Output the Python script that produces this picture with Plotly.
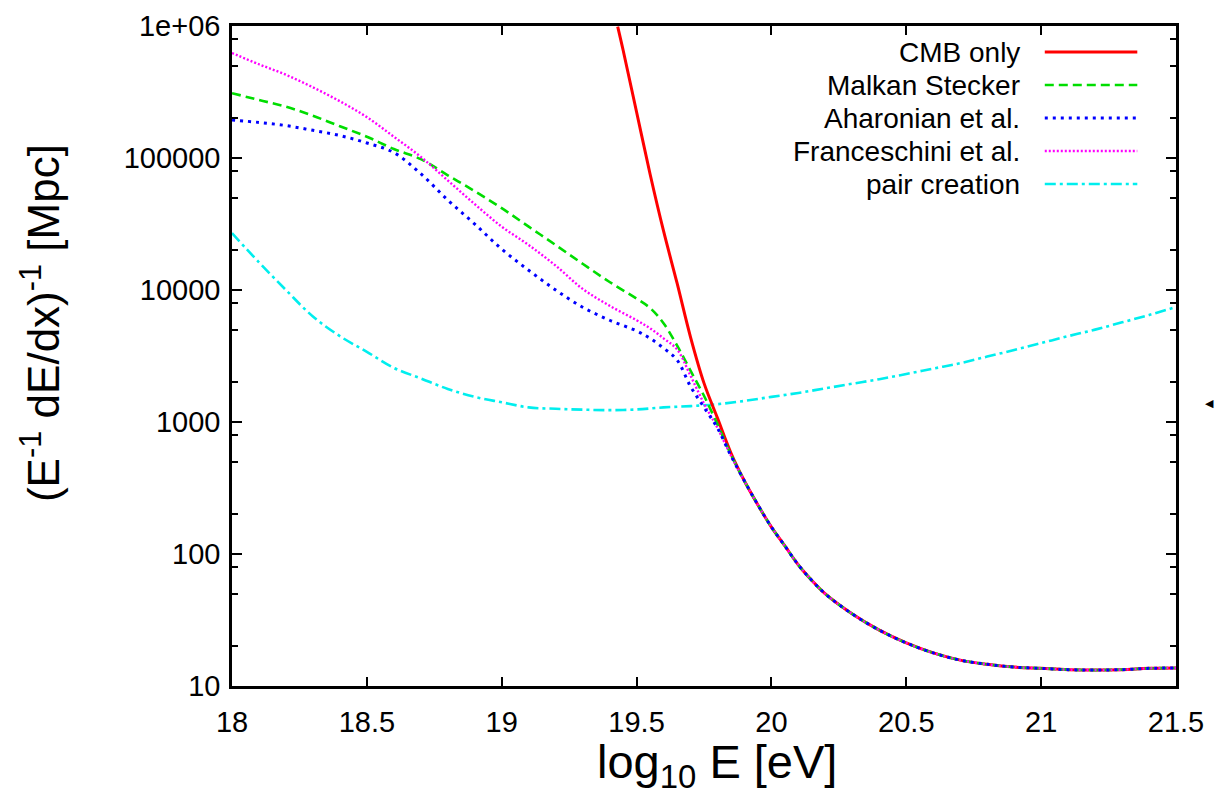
import plotly.graph_objects as go

# ---------------- data ----------------
# low-energy grid for the EBL models (log10 E [eV])
e_low = [18.0, 18.1, 18.2, 18.3, 18.4, 18.5, 18.6, 18.7, 18.8, 18.9,
         19.0, 19.1, 19.2, 19.3, 19.4, 19.5, 19.55, 19.6, 19.65, 19.7,
         19.75, 19.8, 19.85, 19.9]

malkan_low = [310000, 275000, 245000, 209000, 174000, 145000, 117000, 98000,
              74000, 56000, 41700, 30200, 21900, 15800, 11500, 8600, 7300,
              5600, 3800, 2450, 1580, 960, 565, 357]

aharonian_low = [194000, 186000, 176000, 162000, 148000, 130000, 110000, 76000,
                 48000, 31600, 20400, 14100, 10000, 7400, 5900, 4900, 4300,
                 3630, 2950, 1860, 1290, 900, 555, 357]

franceschini_low = [624000, 513000, 427000, 343000, 269000, 204000, 145000, 102000,
                    67600, 44700, 30200, 21900, 15300, 10200, 7600, 5900, 5130,
                    4300, 3550, 2240, 1380, 900, 555, 357]

# CMB only (starts where it enters the frame)
e_cmb = [19.43, 19.45, 19.5, 19.55, 19.6, 19.65, 19.7, 19.75, 19.8, 19.85, 19.9]
cmb_low = [990000, 658000, 223000, 75700, 28000, 11300, 4400, 1970, 1070, 582, 357]

# high-energy part shared by all photo-pion curves
e_high = [19.95, 20.0, 20.05, 20.1, 20.15, 20.2, 20.3, 20.4, 20.5, 20.6, 20.7,
          20.8, 20.9, 21.0, 21.1, 21.2, 21.3, 21.4, 21.5]
common_high = [235, 160, 115, 82.6, 63, 49.8, 35.1, 26.5, 21.2, 17.8, 15.7,
               14.6, 13.9, 13.6, 13.3, 13.2, 13.3, 13.6, 13.7]

# pair creation
e_pair = [18.0, 18.1, 18.2, 18.3, 18.4, 18.5, 18.6, 18.7, 18.8, 18.9,
          19.0, 19.1, 19.2, 19.3, 19.4, 19.5, 19.6, 19.7, 19.8, 19.9,
          20.0, 20.1, 20.2, 20.3, 20.4, 20.5, 20.6, 20.7, 20.8, 20.9,
          21.0, 21.1, 21.2, 21.3, 21.4, 21.5]
pair = [27000, 16200, 10000, 6300, 4470, 3400, 2570, 2140, 1780, 1550,
        1410, 1290, 1260, 1240, 1230, 1245, 1290, 1320, 1365, 1445,
        1550, 1660, 1800, 1950, 2110, 2310, 2540, 2790, 3130, 3510,
        3960, 4470, 5010, 5690, 6460, 7430]

labels = ["CMB only", "Malkan Stecker", "Aharonian et al.",
          "Franceschini et al.", "pair creation"]
colors = ["#ff0000", "#00dd00", "#0000ff", "#ff00ff", "#00eeee"]
dashes = ["solid", "9px,5px", "3px,5px", "2px,2px", "11px,4px,3px,4px"]
widths = [3, 2.6, 3, 2.4, 2.6]

y_ticks = [10, 100, 1000, 10000, 100000, 1000000]
y_ticktext = ["10", "100", "1000", "10000", "100000", "1e+06"]
x_ticks = [18, 18.5, 19, 19.5, 20, 20.5, 21, 21.5]
x_ticktext = ["18", "18.5", "19", "19.5", "20", "20.5", "21", "21.5"]

# ---------------- figure ----------------
series_x = [e_cmb + e_high, e_low + e_high, e_low + e_high, e_low + e_high, e_pair]
series_y = [cmb_low + common_high, malkan_low + common_high,
            aharonian_low + common_high, franceschini_low + common_high, pair]

FONT = "Liberation Sans, Arial, Helvetica, sans-serif"
fig = go.Figure()
# draw pair creation first, then CMB, then the EBL models on top
order = [4, 0, 1, 3, 2]
for i in order:
    fig.add_trace(go.Scatter(
        x=series_x[i], y=series_y[i], mode="lines", name=labels[i],
        line=dict(color=colors[i], dash=dashes[i], width=widths[i],
                  shape="spline", smoothing=1.0),
        showlegend=False, cliponaxis=True))

# custom gnuplot-like key: right-aligned text with sample to the right
key_y = [0.9606, 0.9106, 0.8606, 0.8106, 0.7606]
for i, lab in enumerate(labels):
    fig.add_annotation(x=0.837, y=key_y[i], xref="paper", yref="paper",
                       text=lab, showarrow=False, xanchor="right",
                       yanchor="middle",
                       font=dict(family=FONT, size=28, color="black"))
    fig.add_shape(type="line", xref="paper", yref="paper",
                  x0=0.861, x1=0.959, y0=key_y[i], y1=key_y[i],
                  line=dict(color=colors[i], dash=dashes[i], width=widths[i]))

# axis titles placed as in the reference
fig.add_annotation(x=0.514, y=-0.168, xref="paper", yref="paper",
                   text="log<sub>10</sub> E [eV]", showarrow=False,
                   xanchor="center", yanchor="bottom",
                   font=dict(family=FONT, size=47, color="black"))
fig.add_annotation(x=-0.2023, y=0.55, xref="paper", yref="paper",
                   text="(E<sup>-1</sup> dE/dx)<sup>-1</sup> [Mpc]", showarrow=False,
                   textangle=-90, xanchor="center", yanchor="middle",
                   font=dict(family=FONT, size=44, color="black"))

# small stray arrow head outside the frame
fig.add_annotation(x=1.042, y=0.430, xref="paper", yref="paper",
                   text="◀", showarrow=False, font=dict(size=11, color="black"))

minor_y = []
for d in [10, 100, 1000, 10000, 100000]:
    minor_y += [2 * d, 5 * d, 8 * d]

fig.update_xaxes(
    range=[18, 21.5], tickvals=x_ticks, ticktext=x_ticktext,
    ticks="inside", ticklen=9, tickwidth=1.5, tickcolor="black",
    showline=True, linecolor="black", linewidth=2.5, mirror="ticks",
    showgrid=False, zeroline=False, ticklabelstandoff=8,
    tickfont=dict(family=FONT, size=29, color="black"))

fig.update_yaxes(
    type="log", range=[1, 6], tickvals=y_ticks, ticktext=y_ticktext,
    ticks="inside", ticklen=10, tickwidth=1.5, tickcolor="black",
    showline=True, linecolor="black", linewidth=2.5, mirror="ticks",
    showgrid=False, zeroline=False, ticklabelstandoff=3,
    minor=dict(tickvals=minor_y, ticks="inside", ticklen=6, tickwidth=1.5,
               tickcolor="black", showgrid=False),
    tickfont=dict(family=FONT, size=29, color="black"))

fig.update_layout(
    width=1218, height=795,
    margin=dict(l=232, r=42, t=26, b=109, autoexpand=False),
    paper_bgcolor="white", plot_bgcolor="white",
    showlegend=False)

fig.write_html("out.html")
